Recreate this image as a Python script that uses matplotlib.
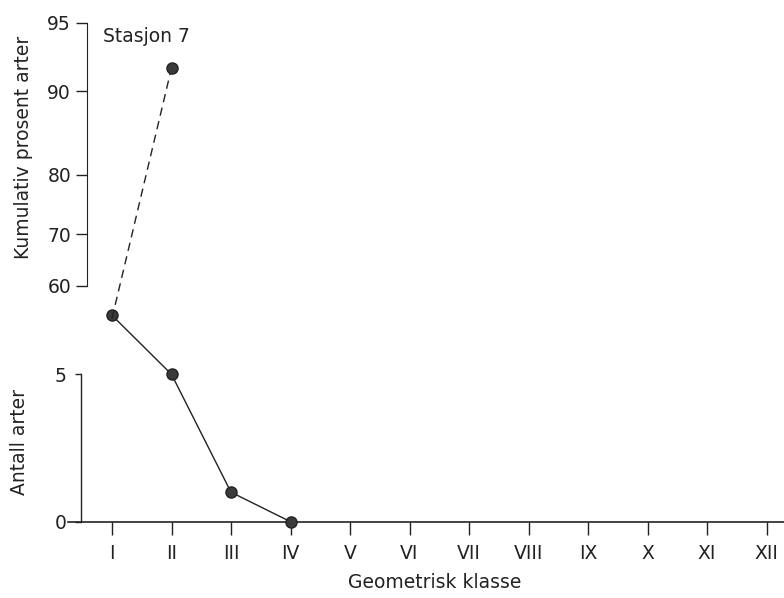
import numpy as np
import matplotlib
matplotlib.use("Agg")
import matplotlib.pyplot as plt
from matplotlib.ticker import NullLocator
from statistics import NormalDist

# data
klasser = [1, 2, 3, 4]
antall_arter = [7, 5, 1, 0]
kum_klasser = [1, 2]
kum_prosent = [53.2, 92.0]
roman = ["I", "II", "III", "IV", "V", "VI", "VII", "VIII", "IX", "X", "XI", "XII"]
kum_ticks = [60, 70, 80, 90, 95]

plt.rcParams['font.family'] = ['DejaVu Sans']
ink = '#222222'
W, H = 784, 598

nd = NormalDist()

def probit(p):
    p = np.clip(np.asarray(p, dtype=float) / 100.0, 1e-9, 1 - 1e-9)
    return np.vectorize(nd.inv_cdf, otypes=[float])(p)

def probit_inv(z):
    return np.vectorize(nd.cdf, otypes=[float])(np.asarray(z, dtype=float)) * 100.0

fig = plt.figure(figsize=(W / 100, H / 100), dpi=100)

# axes box in pixels
left, right, bottom, top = 68, 784, 521.7, 22.7
rect = [left / W, 1 - bottom / H, (right - left) / W, (bottom - top) / H]
ax = fig.add_axes(rect)
ax_up = fig.add_axes(rect)
ax_up.patch.set_visible(False)

# lower axis: number of species
px_per_art = (521.7 - 374.3) / 5
ax.set_ylim(0, (bottom - top) / px_per_art)
ax.set_xlim(1 - (112 - left) / 59.5, 1 + (right - 112) / 59.5)
ax.plot(klasser, antall_arter, color=ink, lw=1.0, marker='o', ms=8,
        mfc='#3a3a3a', mec=ink, clip_on=False, zorder=5)

for s in ['top', 'right']:
    ax.spines[s].set_visible(False)
ax.spines['left'].set_position(('axes', 13 / (right - left)))
ax.spines['left'].set_bounds(0, 5)
ax.spines['left'].set_color(ink)
ax.spines['bottom'].set_color(ink)
ax.spines['left'].set_linewidth(1.0)
ax.spines['bottom'].set_linewidth(1.2)
ax.set_yticks([0, 5])
ax.set_xticks(range(1, 13))
ax.set_xticklabels(roman)
ax.tick_params(axis='y', length=4.5, width=1.0, pad=6, labelsize=13.5, colors=ink)
ax.tick_params(axis='x', length=9, width=1.0, pad=7, labelsize=13.5, colors=ink)

# upper axis: cumulative percent on probability scale
ax_up.set_xlim(ax.get_xlim())
ax_up.set_yscale('function', functions=(probit, probit_inv))
px_per_z = (285.7 - 22.7) / (nd.inv_cdf(0.95) - nd.inv_cdf(0.60))
lo = nd.cdf(nd.inv_cdf(0.95) - (bottom - top) / px_per_z) * 100
ax_up.set_ylim(lo, 95)
ax_up.plot(kum_klasser, kum_prosent, color=ink, lw=1.0, ls=(0, (6, 4)))
ax_up.plot(kum_klasser[1:], kum_prosent[1:], 'o', ms=8, mfc='#3a3a3a', mec=ink,
           clip_on=False)

for s in ['top', 'right', 'bottom']:
    ax_up.spines[s].set_visible(False)
ax_up.spines['left'].set_position(('axes', 19 / (right - left)))
ax_up.spines['left'].set_bounds(60, 95)
ax_up.spines['left'].set_color(ink)
ax_up.set_xticks([])
ax_up.set_yticks(kum_ticks)
ax_up.set_yticklabels([str(t) for t in kum_ticks])
ax_up.yaxis.set_minor_locator(NullLocator())
ax_up.tick_params(axis='y', length=8, width=1.0, pad=3.5, labelsize=13.5, colors=ink)

# texts
fig.text(24 / W, 1 - 147 / H, 'Kumulativ prosent arter', rotation=90,
         ha='center', va='center', fontsize=13.5, color=ink)
fig.text(20 / W, 1 - 442 / H, 'Antall arter', rotation=90,
         ha='center', va='center', fontsize=13.5, color=ink)
fig.text(103 / W, 1 - 37 / H, 'Stasjon 7', ha='left', va='center',
         fontsize=13.5, color=ink)
fig.text(435 / W, 1 - 582 / H, 'Geometrisk klasse', ha='center', va='center',
         fontsize=13.5, color=ink)

fig.savefig('out.png', dpi=100)
